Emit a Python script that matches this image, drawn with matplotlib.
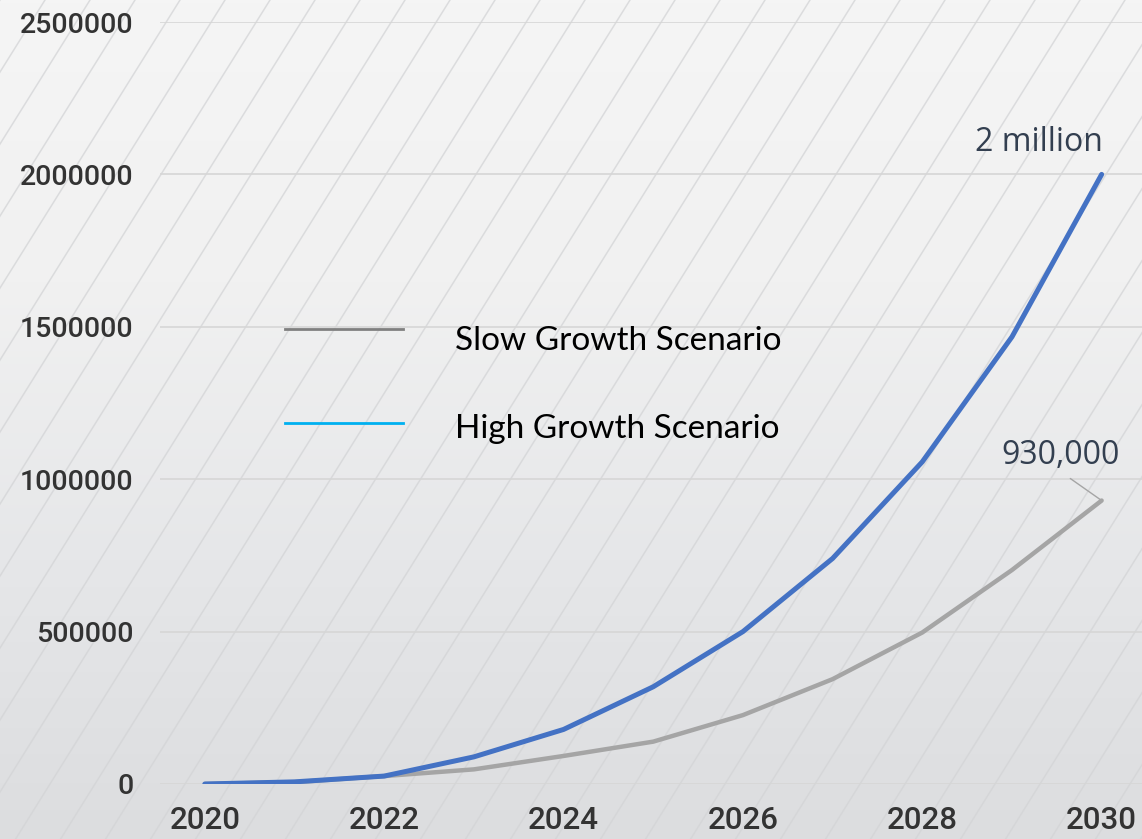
import numpy as np
import matplotlib
matplotlib.use('Agg')
import matplotlib.pyplot as plt
from matplotlib.lines import Line2D

# Данные
years = [2020, 2021, 2022, 2023, 2024, 2025, 2026, 2027, 2028, 2029, 2030]
slow_growth = [0, 6000, 26000, 48000, 92000, 139000, 226000, 344000, 497000, 702000, 930000]
high_growth = [0, 7000, 26000, 89000, 179000, 319000, 500000, 740000, 1057000, 1467000, 2000000]
y_ticks = [0, 500000, 1000000, 1500000, 2000000, 2500000]
x_ticks = [2020, 2022, 2024, 2026, 2028, 2030]
legend_labels = ['Slow Growth Scenario', 'High Growth Scenario']
label_high = '2 million'
label_slow = '930,000'

W, H = 1142, 839
fig = plt.figure(figsize=(W / 100, H / 100), dpi=100)

# фон: серый градиент + диагональные линии
bg = fig.add_axes([0, 0, 1, 1], zorder=-10)
grad = np.linspace(0, 1, 256)[:, None] * np.ones((1, 16))
bg.imshow(grad, extent=[0, W, 0, H], aspect='auto', origin='lower',
          cmap=matplotlib.colors.LinearSegmentedColormap.from_list(
              'bg', ['#dcdddf', '#e6e7e9', '#f1f1f1', '#f5f5f5']))
slope = 1.6
for x0 in np.arange(-H / slope - 45, W + 45, 45):
    bg.plot([x0, x0 + H / slope], [0, H], color='#d3d4d6', lw=1.1, alpha=0.75)
bg.set_xlim(0, W)
bg.set_ylim(0, H)
bg.axis('off')

# основной график
ax = fig.add_axes([160 / W, 1 - 784 / H, 1 - 160 / W, (784 - 22) / H])
ax.patch.set_alpha(0)
ax.plot(years, slow_growth, color='#a5a5a5', lw=3.2, solid_capstyle='round', zorder=3)
ax.plot(years, high_growth, color='#4472c4', lw=3.6, solid_capstyle='round', zorder=4)

ax.set_xlim(2019.5, 2030.45)
ax.set_ylim(0, 2500000)
ax.set_yticks(y_ticks)
ax.set_yticklabels([str(v) for v in y_ticks])
ax.set_xticks(x_ticks)
ax.set_xticklabels([str(v) for v in x_ticks])
ax.yaxis.grid(True, color='#d6d6d6', lw=1.2)
ax.set_axisbelow(True)
for s in ax.spines.values():
    s.set_visible(False)
ax.tick_params(axis='both', length=0, labelcolor='#333333')
ax.tick_params(axis='y', pad=19, labelsize=20.5)
ax.tick_params(axis='x', pad=16, labelsize=22.5)
for lbl in ax.get_xticklabels() + ax.get_yticklabels():
    lbl.set_fontfamily('Roboto')
    lbl.set_fontweight('medium')

# подписи значений
ax.annotate(label_high, xy=(years[-1], high_growth[-1]), xytext=(-45.5, 16.5),
            textcoords='offset points', ha='center', va='baseline',
            fontsize=23, color='#333f50', family='Open Sans')
ax.annotate(label_slow, xy=(years[-1], slow_growth[-1]), xytext=(-29.5, 26.5),
            textcoords='offset points', ha='center', va='baseline',
            fontsize=23, color='#333f50', family='Open Sans',
            arrowprops=dict(arrowstyle='-', color='#a5a5a5', lw=1,
                            relpos=(0.5, 0), shrinkA=5, shrinkB=0))

# легенда вручную
leg_colors = ['#808080', '#00b0f0']
line_y = [329, 423]
text_base = [350, 438]
for lab, col, ly, ty in zip(legend_labels, leg_colors, line_y, text_base):
    fig.add_artist(Line2D([285 / W, 403 / W], [1 - ly / H, 1 - ly / H], color=col, lw=2,
                          transform=fig.transFigure))
    fig.text(455 / W, 1 - ty / H, lab, ha='left', va='baseline', fontsize=24,
             color='#000000', family='Lato')

fig.savefig('out.png', dpi=100)
